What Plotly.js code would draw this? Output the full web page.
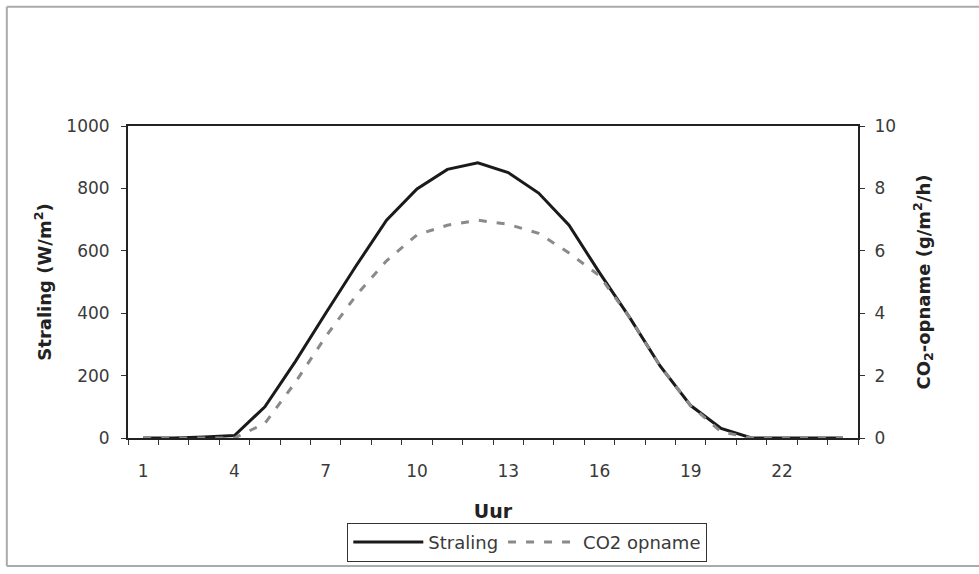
<!DOCTYPE html>
<html>
<head>
<meta charset="utf-8">
<script src="https://cdn.plot.ly/plotly-3.0.1.min.js"></script>
<style>
  html, body { margin: 0; padding: 0; background: #fff; }
  #plot { width: 979px; height: 574px; }
</style>
</head>
<body>
<div id="plot"></div>
<script>
document.addEventListener("DOMContentLoaded", function() {

  const hours = [1, 2, 3, 4, 5, 6, 7, 8, 9, 10, 11, 12,
                 13, 14, 15, 16, 17, 18, 19, 20, 21, 22, 23, 24];

  // W/m2
  const straling = [0, 0, 3, 8, 100, 245, 400, 552, 698, 798, 861, 882,
                    851, 785, 682, 530, 385, 230, 104, 31, 0, 0, 0, 0];

  // g/m2/h
  const co2 = [0, 0, 0, 0, 0.47, 1.78, 3.25, 4.57, 5.68, 6.51, 6.82, 6.98,
               6.85, 6.56, 5.93, 5.2, 3.85, 2.3, 1.04, 0.2, 0, 0, 0, 0];

  const xTicks = [1, 4, 7, 10, 13, 16, 19, 22];

  const font = 'DejaVu Sans, Arial, sans-serif';
  const ink = '#3a3a3a';

  const trace1 = {
    x: hours,
    y: straling,
    name: 'Straling',
    type: 'scatter',
    mode: 'lines',
    line: { color: '#1a1a1a', width: 3 }
  };

  const trace2 = {
    x: hours,
    y: co2,
    name: 'CO2 opname',
    yaxis: 'y2',
    type: 'scatter',
    mode: 'lines',
    line: { color: '#8a8a8a', width: 3, dash: '8px,10px' }
  };

  // outer frame (left, top, bottom edges; right edge is off the picture)
  const frame = { color: '#aaa', width: 2 };
  const fx0 = -0.166, fx1 = 1.3, fy0 = -0.41, fy1 = 1.382;

  const layout = {
    width: 979,
    height: 574,
    margin: { l: 128, r: 121, t: 126, b: 131 },
    paper_bgcolor: '#fff',
    plot_bgcolor: '#fff',
    font: { family: font, size: 17, color: ink },
    showlegend: true,
    xaxis: {
      range: [0.5, 24.5],
      tickvals: xTicks,
      ticks: '',
      ticklabelstandoff: 17,
      showgrid: false,
      zeroline: false,
      showline: true,
      linecolor: '#222',
      linewidth: 2,
      mirror: true,
      minor: { tick0: 0.5, dtick: 1, ticks: 'outside', ticklen: 5, tickcolor: '#333', tickwidth: 1, showgrid: false },
      title: { text: 'Uur', font: { family: font, size: 19, color: '#222', weight: 'bold' }, standoff: 24 }
    },
    yaxis: {
      range: [0, 1000],
      dtick: 200,
      ticks: 'outside',
      ticklen: 5,
      tickcolor: '#333',
      ticklabelstandoff: 8,
      showgrid: false,
      zeroline: false,
      showline: true,
      linecolor: '#222',
      linewidth: 2,
      title: { text: 'Straling (W/m<sup>2</sup>)', font: { family: font, size: 18, color: '#222', weight: 'bold' }, standoff: 10 }
    },
    yaxis2: {
      overlaying: 'y',
      side: 'right',
      range: [0, 10],
      dtick: 2,
      ticks: 'outside',
      ticklen: 5,
      tickcolor: '#333',
      ticklabelstandoff: 6,
      showgrid: false,
      zeroline: false,
      showline: true,
      linecolor: '#222',
      linewidth: 2,
      title: { text: 'CO<sub>2</sub>-opname (g/m<sup>2</sup>/h)', font: { family: font, size: 18, color: '#222', weight: 'bold' }, standoff: 22 }
    },
    legend: {
      orientation: 'h',
      x: 0.547,
      xanchor: 'center',
      y: -0.272,
      yanchor: 'top',
      bordercolor: '#333',
      borderwidth: 1,
      itemwidth: 70,
      font: { family: font, size: 18, color: ink }
    },
    shapes: [
      { type: 'line', xref: 'paper', yref: 'paper', x0: fx0, x1: fx0, y0: fy0, y1: fy1, line: frame },
      { type: 'line', xref: 'paper', yref: 'paper', x0: fx0, x1: fx1, y0: fy1, y1: fy1, line: frame },
      { type: 'line', xref: 'paper', yref: 'paper', x0: fx0, x1: fx1, y0: fy0, y1: fy0, line: frame }
    ]
  };

  Plotly.newPlot('plot', [trace1, trace2], layout, { staticPlot: true });
});
</script>
</body>
</html>
